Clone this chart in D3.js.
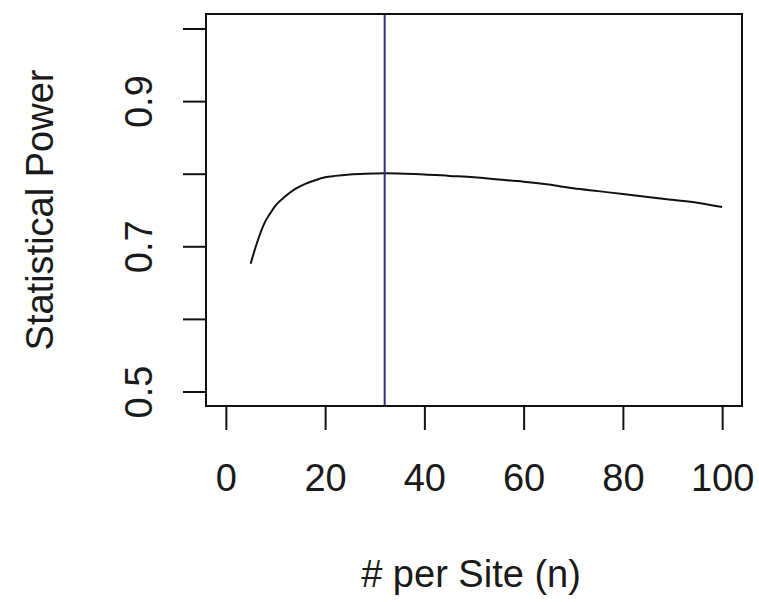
<!DOCTYPE html>
<html>
<head>
<meta charset="utf-8">
<script src="https://cdn.jsdelivr.net/npm/d3@7"></script>
<style>
  body { margin: 0; background: #fff; }
  text { font-family: "Liberation Sans", Arial, sans-serif; fill: #1a1a1a; }
</style>
</head>
<body>
<script>
// sample size per site vs. power
const nValues = [5, 6, 7, 8, 9, 10, 12, 14, 16, 18, 20, 22, 25, 28, 32, 36, 40, 45, 50, 55, 60, 65, 70, 75, 80, 85, 90, 95, 100];
const power   = [0.676, 0.699, 0.719, 0.735, 0.746, 0.756, 0.769, 0.779, 0.786, 0.791, 0.795, 0.797, 0.799, 0.800, 0.8005, 0.800, 0.799, 0.797, 0.795, 0.792, 0.789, 0.785, 0.780, 0.776, 0.772, 0.768, 0.764, 0.760, 0.754];
const optimalN = 32;
const xTicks = [0, 20, 40, 60, 80, 100];
const yTicks = [0.5, 0.6, 0.7, 0.8, 0.9, 1.0];
const yLabelled = [0.5, 0.7, 0.9];

const width = 759, height = 602;
const boxLeft = 206, boxRight = 742, boxTop = 14, boxBottom = 406;
const fontSize = 38;

const svg = d3.select('body').append('svg')
    .attr('width', width)
    .attr('height', height);

// R style: limits padded 4% past the data range
const x = d3.scaleLinear().domain([-4, 104]).range([boxLeft, boxRight]);
const y = d3.scaleLinear().domain([0.48, 1.02]).range([boxBottom, boxTop]);

// x axis
const xAxis = svg.append('g')
    .attr('transform', `translate(0, ${boxBottom})`)
    .call(d3.axisBottom(x).tickValues(xTicks).tickSize(24).tickPadding(34).tickFormat(d3.format('d')));
xAxis.select('.domain').remove();
xAxis.selectAll('line').attr('stroke', '#111').attr('stroke-width', 2);
xAxis.selectAll('text').attr('font-size', fontSize).attr('font-family', null).attr('fill', null);

// y axis, labels rotated, every other one skipped like R does
const yAxis = svg.append('g')
    .attr('transform', `translate(${boxLeft}, 0)`)
    .call(d3.axisLeft(y).tickValues(yTicks).tickSize(23)
        .tickFormat(d => yLabelled.includes(d) ? d3.format('.1f')(d) : ''));
yAxis.select('.domain').remove();
yAxis.selectAll('line').attr('stroke', '#111').attr('stroke-width', 2);
yAxis.selectAll('text')
    .attr('font-size', fontSize).attr('font-family', null).attr('fill', null)
    .attr('text-anchor', 'middle')
    .attr('x', 0)
    .attr('y', -(boxLeft - 152))
    .attr('dy', null)
    .attr('transform', 'rotate(-90)');

// axis titles
svg.append('text')
    .attr('x', (boxLeft + boxRight) / 2 - 3)
    .attr('y', 587)
    .attr('text-anchor', 'middle')
    .attr('font-size', fontSize)
    .text('# per Site (n)');

svg.append('text')
    .attr('transform', `translate(53, ${(boxTop + boxBottom) / 2}) rotate(-90)`)
    .attr('text-anchor', 'middle')
    .attr('font-size', fontSize)
    .text('Statistical Power');

// power curve
const line = d3.line()
    .x((d, i) => x(nValues[i]))
    .y(d => y(d))
    .curve(d3.curveMonotoneX);

svg.append('path')
    .datum(power)
    .attr('d', line)
    .attr('fill', 'none')
    .attr('stroke', '#111')
    .attr('stroke-width', 2);

// chosen n
svg.append('line')
    .attr('x1', x(optimalN)).attr('x2', x(optimalN))
    .attr('y1', y.range()[1]).attr('y2', y.range()[0])
    .attr('stroke', '#2e2e80')
    .attr('stroke-width', 2);

// plot box
svg.append('rect')
    .attr('x', boxLeft).attr('y', boxTop)
    .attr('width', boxRight - boxLeft).attr('height', boxBottom - boxTop)
    .attr('fill', 'none')
    .attr('stroke', '#111')
    .attr('stroke-width', 2);
</script>
</body>
</html>
